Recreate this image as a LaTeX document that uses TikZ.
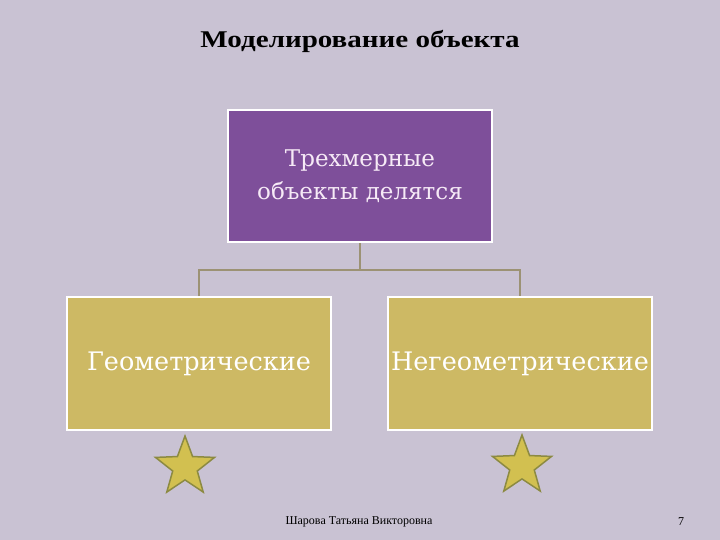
\documentclass[tikz,border=0pt]{standalone}
\usepackage{fontspec}
\setmainfont{Liberation Serif}
\newfontfamily\boxfont{DejaVu Serif}
\usetikzlibrary{shapes.geometric}
\definecolor{bgc}{HTML}{C9C2D3}
\definecolor{purp}{HTML}{7E4F9A}
\definecolor{gold}{HTML}{CDB964}
\definecolor{conn}{HTML}{9C9274}
\definecolor{starfill}{HTML}{D2C050}
\definecolor{stardraw}{HTML}{8C8A42}
\definecolor{ltext}{HTML}{F6EAF6}
\tikzset{
  box/.style={draw=white, line width=2pt, rectangle, minimum width=264pt, minimum height=132pt, align=center, inner sep=2pt},
  topbox/.style={box, fill=purp, text=ltext, font=\boxfont\fontsize{23}{33}\selectfont},
  subbox/.style={box, fill=gold, text=white, minimum height=133pt, font=\boxfont\fontsize{25.5}{30}\selectfont},
  link/.style={draw=conn, line width=2.5pt},
  starmark/.style={star, star points=5, star point ratio=2.4, minimum size=62pt, inner sep=0pt, fill=starfill, draw=stardraw, line width=1.5pt}
}
\begin{document}
\begin{tikzpicture}[x=1pt,y=-1pt]
\fill[bgc] (0,0) rectangle (720,540);
\useasboundingbox (0,0) rectangle (720,540);
\node[font=\fontsize{24}{28}\selectfont\bfseries, anchor=base] (title) at (360,48) {\scalebox{1.21}[1]{Моделирование объекта}};
\node[topbox] (top) at (360,176) {Трехмерные\\объекты делятся};
\node[subbox] (left) at (199,363.5) {Геометрические};
\node[subbox] (right) at (520,363.5) {Негеометрические};
\coordinate (mid) at (360,270);
\draw[link] (top.south) -- (mid);
\draw[link] (left.north) |- (mid) -| (right.north);
\node[starmark] (s1) at (185,467) {};
\node[starmark] (s2) at (522,466) {};
\node[font=\fontsize{12}{14}\selectfont] (foot) at (359,522) {Шарова Татьяна Викторовна};
\node[font=\fontsize{12}{14}\selectfont] (num) at (681,522) {7};
\end{tikzpicture}
\end{document}
